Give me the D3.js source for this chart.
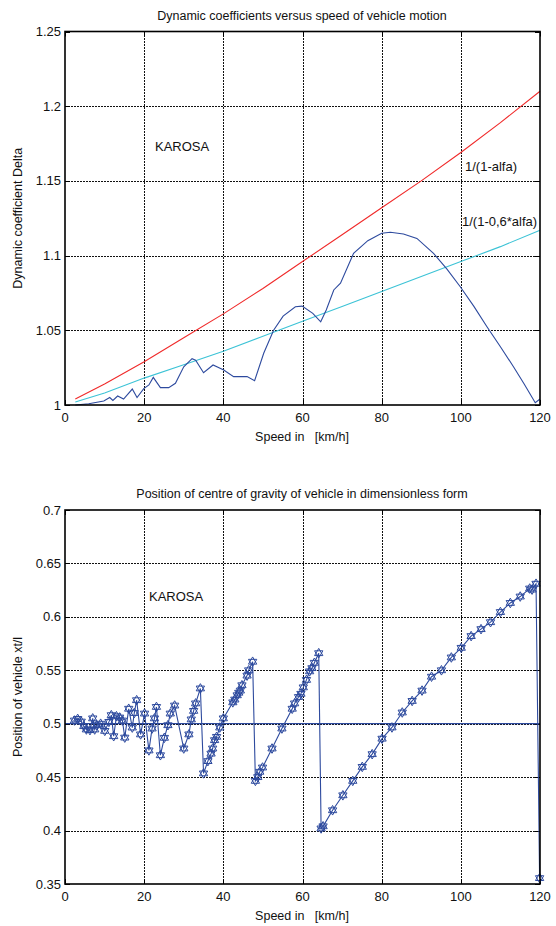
<!DOCTYPE html>
<html>
<head>
<meta charset="utf-8">
<script src="https://d3js.org/d3.v7.min.js"></script>
<style>
  body { margin: 0; background: #fff; }
  svg { font-family: "Liberation Sans", Arial, sans-serif; }
  .tick-lbl { font-size: 13px; fill: #111; }
  .title { font-size: 12.5px; fill: #111; }
  .note { font-size: 13px; fill: #111; }
</style>
</head>
<body>
<div id="chart"></div>
<script>
// ---- data: top panel (dynamic coefficients) ----
var speedRed = [2.6, 10, 20, 30, 40, 50, 60, 70, 80, 90, 100, 110, 120];
var deltaRed = [1.004, 1.014, 1.029, 1.045, 1.061, 1.078, 1.096, 1.114, 1.132, 1.150, 1.169, 1.189, 1.210];

var speedCyan = [2.6, 10, 20, 30, 40, 50, 60, 70, 80, 90, 100, 110, 120];
var deltaCyan = [1.002, 1.008, 1.018, 1.027, 1.036, 1.046, 1.056, 1.066, 1.076, 1.086, 1.096, 1.106, 1.117];

var speedBlue = [2.6, 6, 9.8, 11.3, 12.1, 13.3, 14.8, 17.0, 18.2, 19.9, 21.2, 22.3, 24.1, 26.2, 27.9,
  30.0, 32.1, 33.0, 35.0, 37.4, 40.1, 42.6, 46.0, 47.9, 50.2, 52.7, 55.1, 58.2, 59.9, 62.6, 64.6,
  66.0, 67.9, 69.6, 72.9, 76.5, 80.0, 82.2, 85.5, 88.9, 93.1, 96.5, 99.9, 103.3, 106.6, 110.0,
  113.3, 116.0, 118.8, 120];
var deltaBlue = [1.000, 1.0008, 1.0027, 1.005, 1.003, 1.006, 1.004, 1.0107, 1.005, 1.011, 1.0134, 1.0185,
  1.0116, 1.0116, 1.0145, 1.0256, 1.031, 1.030, 1.0216, 1.0268, 1.0234, 1.019, 1.019, 1.0163, 1.0346,
  1.050, 1.0595, 1.0658, 1.0662, 1.0613, 1.0557, 1.0636, 1.077, 1.0815, 1.1015, 1.110, 1.115, 1.1156,
  1.1145, 1.1115, 1.1015, 1.091, 1.079, 1.066, 1.0524, 1.039, 1.0256, 1.014, 1.0015, 1.004];

// ---- data: bottom panel (centre of gravity position) ----
var speedPos = [2.4, 3.2, 4.1, 4.75, 5.4, 6.3, 7.0, 7.5, 8.0, 9.0, 10.05, 11.1, 11.7, 12.3, 13.0, 13.8,
  14.5, 15.1, 16.1, 17.0, 17.5, 18.1, 19.1, 20.1, 21.2, 22.0, 22.6, 23.1, 24.1, 25.1, 26.0, 26.6, 27.7,
  30.0, 31.3, 31.9, 32.5, 33.0, 34.2, 35.0, 36.1, 36.9, 37.3, 37.8, 38.3, 39.1, 40.0, 42.4, 42.9, 43.5,
  43.9, 44.3, 44.7, 46.0, 46.4, 47.4, 48.1, 48.7, 49.2, 49.9, 52.3, 54.8, 57.4, 58.0, 59.0, 59.6, 60.2,
  61.0, 61.8, 62.4, 63.0, 64.1, 64.7, 65.2, 67.6, 70.2, 72.7, 75.1, 77.6, 80.1, 82.6, 85.2, 87.7, 90.2,
  92.6, 95.1, 97.6, 100.1, 102.6, 105.1, 107.5, 110, 112.5, 115, 117.4, 118.0, 119.0, 119.9];
var posXt = [0.503, 0.5045, 0.502, 0.4977, 0.4946, 0.494, 0.505, 0.4946, 0.4986, 0.500, 0.4933, 0.5017,
  0.508, 0.4883, 0.507, 0.5058, 0.503, 0.487, 0.514, 0.4964, 0.510, 0.522, 0.490, 0.5095, 0.475, 0.4955,
  0.505, 0.5157, 0.4705, 0.4868, 0.4986, 0.5095, 0.517, 0.4768, 0.490, 0.504, 0.512, 0.519, 0.533,
  0.4535, 0.465, 0.472, 0.4768, 0.4846, 0.4877, 0.4964, 0.505, 0.520, 0.5226, 0.5266, 0.529, 0.531,
  0.536, 0.545, 0.550, 0.558, 0.4465, 0.450, 0.455, 0.459, 0.4768, 0.4955, 0.514, 0.519, 0.525, 0.528,
  0.534, 0.541, 0.549, 0.552, 0.557, 0.566, 0.402, 0.404, 0.419, 0.433, 0.4465, 0.4596, 0.4715, 0.486,
  0.4965, 0.5105, 0.5213, 0.531, 0.544, 0.550, 0.562, 0.571, 0.582, 0.5885, 0.595, 0.6045, 0.613, 0.619,
  0.6265, 0.6255, 0.631, 0.3555];

var xTicks = [0, 20, 40, 60, 80, 100, 120];
var yTicksTop = [1, 1.05, 1.1, 1.15, 1.2, 1.25];
var yTicksBottom = [0.35, 0.4, 0.45, 0.5, 0.55, 0.6, 0.65, 0.7];

var svg = d3.select("#chart").append("svg")
  .attr("width", 556).attr("height", 926);

function zip(xs, ys) { return xs.map(function(x, i) { return [x, ys[i]]; }); }
// snap to pixel centre so dotted lines stay crisp
function px(v) { return Math.round(v) + 0.5; }

function panel(opts) {
  var x = d3.scaleLinear().domain([0, 120]).range([65, 540]);
  var y = d3.scaleLinear().domain(opts.yDomain).range([opts.bottom, opts.top]);
  var g = svg.append("g");

  // grid
  g.selectAll(".gx").data(xTicks.slice(1, -1)).enter().append("line")
    .attr("x1", function(d) { return px(x(d)); }).attr("x2", function(d) { return px(x(d)); })
    .attr("y1", opts.top).attr("y2", opts.bottom)
    .attr("stroke", "#111").attr("stroke-width", 1).attr("stroke-dasharray", "2,1")
    .attr("shape-rendering", "crispEdges");
  g.selectAll(".gy").data(opts.yTicks.slice(1, -1)).enter().append("line")
    .attr("x1", 65).attr("x2", 540)
    .attr("y1", function(d) { return px(y(d)); }).attr("y2", function(d) { return px(y(d)); })
    .attr("stroke", "#111").attr("stroke-width", 1).attr("stroke-dasharray", "2,1")
    .attr("shape-rendering", "crispEdges");

  // tick marks (inside) + labels
  xTicks.forEach(function(t) {
    g.append("line").attr("x1", px(x(t))).attr("x2", px(x(t)))
      .attr("y1", opts.bottom).attr("y2", opts.bottom - 5).attr("stroke", "#000");
    g.append("line").attr("x1", px(x(t))).attr("x2", px(x(t)))
      .attr("y1", opts.top).attr("y2", opts.top + 5).attr("stroke", "#000");
    g.append("text").attr("class", "tick-lbl").attr("x", x(t)).attr("y", opts.bottom + 17)
      .attr("text-anchor", "middle").text(t);
  });
  opts.yTicks.forEach(function(t) {
    g.append("line").attr("x1", 65).attr("x2", 70)
      .attr("y1", px(y(t))).attr("y2", px(y(t))).attr("stroke", "#000");
    g.append("line").attr("x1", 535).attr("x2", 540)
      .attr("y1", px(y(t))).attr("y2", px(y(t))).attr("stroke", "#000");
    g.append("text").attr("class", "tick-lbl").attr("x", 61).attr("y", y(t) + 4.5)
      .attr("text-anchor", "end").text(String(+t.toFixed(2)));
  });

  var line = d3.line().x(function(d) { return x(d[0]); }).y(function(d) { return y(d[1]); });
  opts.series.forEach(function(s) {
    g.append("path").datum(zip(s.xs, s.ys))
      .attr("d", line).attr("fill", "none")
      .attr("stroke", s.color).attr("stroke-width", 1.1);
    if (s.markers) {
      var r = 4.8;
      var hex = "M0," + (-r) + "L" + (r * 0.866) + "," + (r / 2) + "L" + (-r * 0.866) + "," + (r / 2) + "Z" +
        "M0," + r + "L" + (r * 0.866) + "," + (-r / 2) + "L" + (-r * 0.866) + "," + (-r / 2) + "Z";
      g.selectAll(".mk").data(zip(s.xs, s.ys)).enter().append("path")
        .attr("d", hex)
        .attr("transform", function(d) { return "translate(" + x(d[0]) + "," + y(d[1]) + ")"; })
        .attr("fill", "none").attr("stroke", s.color).attr("stroke-width", 1);
    }
  });

  if (opts.refLine != null) {
    g.append("line").attr("x1", 65).attr("x2", 540)
      .attr("y1", y(opts.refLine)).attr("y2", y(opts.refLine))
      .attr("stroke", "#2d4a9e").attr("stroke-width", 1.3);
  }

  // frame
  g.append("rect").attr("x", 65).attr("y", opts.top)
    .attr("width", 475).attr("height", opts.bottom - opts.top)
    .attr("fill", "none").attr("stroke", "#000").attr("stroke-width", 1.6);

  // titles
  g.append("text").attr("class", "title").attr("x", 302).attr("y", opts.top - 12)
    .attr("text-anchor", "middle").text(opts.title);
  g.append("text").attr("class", "title").attr("x", 302).attr("y", opts.bottom + 36)
    .attr("text-anchor", "middle").attr("xml:space", "preserve").text("Speed in   [km/h]");
  g.append("text").attr("class", "title")
    .attr("transform", "translate(22," + ((opts.top + opts.bottom) / 2) + ") rotate(-90)")
    .attr("text-anchor", "middle").text(opts.yLabel);

  opts.notes.forEach(function(n) {
    g.append("text").attr("class", "note").attr("x", n[0]).attr("y", n[1]).text(n[2]);
  });
}

panel({
  top: 31.5, bottom: 405, yDomain: [1, 1.25], yTicks: yTicksTop,
  title: "Dynamic coefficients versus speed of vehicle motion",
  yLabel: "Dynamic coefficient Delta",
  series: [
    { xs: speedRed, ys: deltaRed, color: "#f02a2a" },
    { xs: speedCyan, ys: deltaCyan, color: "#3cc3d6" },
    { xs: speedBlue, ys: deltaBlue, color: "#2d4a9e" }
  ],
  notes: [[155, 151, "KAROSA"], [465, 171, "1/(1-alfa)"], [462, 226, "1/(1-0,6*alfa)"]]
});

panel({
  top: 510, bottom: 884, yDomain: [0.35, 0.7], yTicks: yTicksBottom,
  title: "Position of centre of gravity of vehicle in dimensionless form",
  yLabel: "Position of vehicle xt/l",
  refLine: 0.5,
  series: [
    { xs: speedPos, ys: posXt, color: "#2d4a9e", markers: true }
  ],
  notes: [[149, 601, "KAROSA"]]
});
</script>
</body>
</html>
